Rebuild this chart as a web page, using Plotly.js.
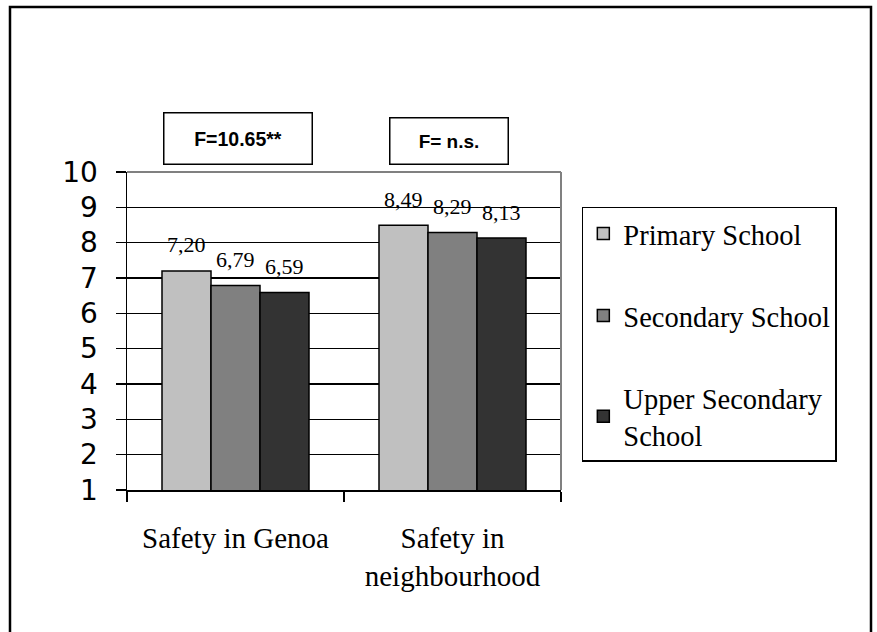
<!DOCTYPE html>
<html>
<head>
<meta charset="utf-8">
<script src="https://cdn.plot.ly/plotly-3.0.1.min.js"></script>
<style>html,body{margin:0;padding:0;background:#fff;}#chart{width:877px;height:632px;}</style>
</head>
<body>
<div id="chart"></div>
<script>
var categories = ["Safety in Genoa", "Safety in<br>neighbourhood"];
var seriesNames = ["Primary School", "Secondary School", "Upper Secondary<br>School"];
var primaryValues = [7.20, 8.49];
var secondaryValues = [6.79, 8.29];
var upperValues = [6.59, 8.13];
var seriesColors = ["#c0c0c0", "#808080", "#333333"];
var fLabels = ["F=10.65**", "F= n.s."];
var yTicks = [1, 2, 3, 4, 5, 6, 7, 8, 9, 10];

var allValues = [primaryValues, secondaryValues, upperValues];
var bargap = 0.3226;
var barW = (1 - bargap) / 3;

var traces = allValues.map(function (vals, s) {
  return {
    type: 'bar',
    name: seriesNames[s],
    x: categories,
    y: vals,
    legendgroup: 'g' + s,
    marker: { color: seriesColors[s], line: { color: '#000', width: 1.5 } },
    hoverinfo: 'none'
  };
});

var annotations = [];
allValues.forEach(function (vals, s) {
  vals.forEach(function (v, i) {
    annotations.push({
      x: i + (s - 1) * barW,
      y: v,
      xref: 'x', yref: 'y',
      text: v.toFixed(2).replace('.', ','),
      showarrow: false,
      xanchor: 'center',
      yanchor: 'middle',
      yshift: 26,
      font: { family: 'Liberation Serif', size: 22, color: '#000' }
    });
  });
});

annotations.push({
  xref: 'paper', yref: 'paper', x: 0.2558, y: 1.1053,
  xanchor: 'center', yanchor: 'middle',
  text: '<b>' + fLabels[0] + '</b>', showarrow: false,
  width: 147, height: 50, borderpad: 0,
  bordercolor: '#000', borderwidth: 1.5, bgcolor: '#fff',
  font: { family: 'Liberation Sans', size: 19.5, color: '#000' }
});
annotations.push({
  xref: 'paper', yref: 'paper', x: 0.7419, y: 1.0975,
  xanchor: 'center', yanchor: 'middle',
  text: '<b>' + fLabels[1] + '</b>', showarrow: false,
  width: 117, height: 45, borderpad: 0,
  bordercolor: '#000', borderwidth: 1.5, bgcolor: '#fff',
  font: { family: 'Liberation Sans', size: 19, color: '#000' }
});

var layout = {
  width: 877, height: 632,
  margin: { l: 127, r: 316, t: 172, b: 142 },
  paper_bgcolor: '#fff', plot_bgcolor: '#fff',
  barmode: 'group', bargap: bargap, bargroupgap: 0,
  showlegend: true,
  legend: {
    x: 1.048, y: 0.89, xanchor: 'left', yanchor: 'top',
    xref: 'paper', yref: 'paper',
    bordercolor: '#000', borderwidth: 1.5, bgcolor: '#fff',
    font: { family: 'Liberation Serif', size: 28.5, color: '#000' },
    traceorder: 'grouped', tracegroupgap: 42
  },
  xaxis: {
    type: 'category',
    showline: true, linecolor: '#000', linewidth: 1.5,
    ticks: 'outside', tickson: 'boundaries', ticklen: 10, tickcolor: '#000', tickwidth: 1.5,
    showgrid: false,
    tickfont: { family: 'Liberation Serif', size: 29, color: '#000' },
    ticklabelstandoff: 22
  },
  yaxis: {
    range: [1, 10],
    tickvals: yTicks,
    showline: true, linecolor: '#000', linewidth: 1.5,
    ticks: 'outside', ticklen: 10, tickcolor: '#000', tickwidth: 1.5,
    showgrid: true, gridcolor: '#000', gridwidth: 1.5,
    zeroline: false,
    tickfont: { family: 'DejaVu Sans', size: 28, color: '#000' },
    ticklabelstandoff: 12
  },
  annotations: annotations,
  shapes: [
    { type: 'line', xref: 'paper', yref: 'paper', x0: 0, x1: 1, y0: 1, y1: 1, line: { color: '#808080', width: 2 }, layer: 'above' },
    { type: 'line', xref: 'paper', yref: 'paper', x0: 1, x1: 1, y0: 0, y1: 1, line: { color: '#808080', width: 2 }, layer: 'above' },
    { type: 'rect', xref: 'paper', yref: 'paper', x0: -0.2696, x1: 1.7143, y0: -0.48, y1: 1.5189, line: { color: '#000', width: 2.5 }, layer: 'below' }
  ]
};

Plotly.newPlot('chart', traces, layout, { displayModeBar: false, staticPlot: true });
</script>
</body>
</html>
